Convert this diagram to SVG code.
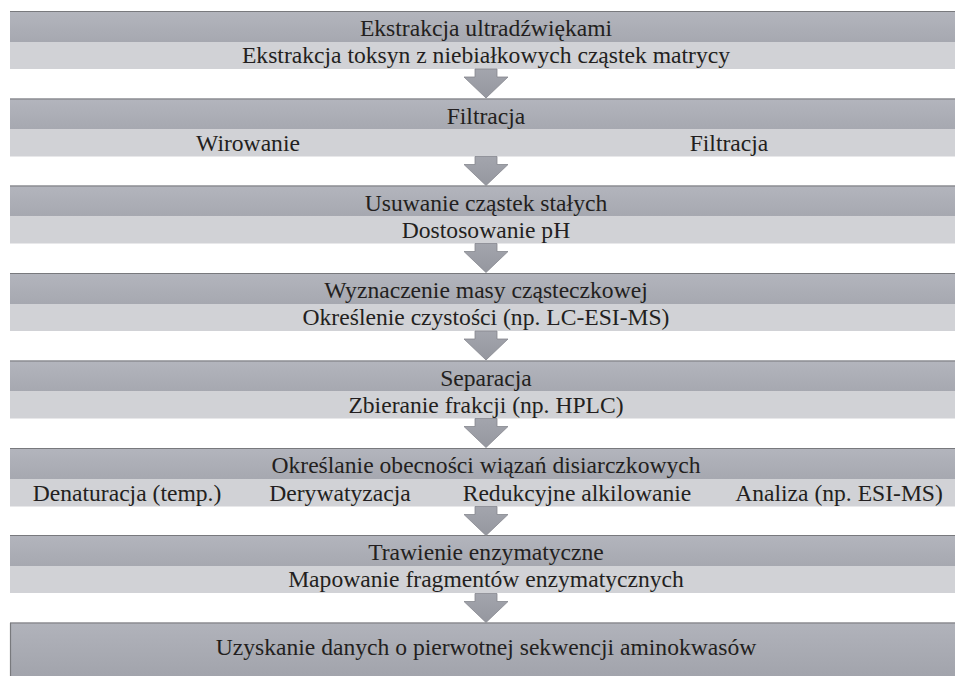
<svg xmlns="http://www.w3.org/2000/svg" width="955" height="676" viewBox="0 0 955 676">
<style>
.t{font-family:"Liberation Serif","Times New Roman",serif;font-size:23.6px;fill:#231f20}
.c{text-anchor:middle}
.dk{fill:url(#gd)}
.lt{fill:#d1d2d6}
.bl{stroke:#78797d;stroke-width:1.2}
.ar{fill:url(#ga);stroke:#85878e;stroke-width:0.8}
</style>
<defs>
<linearGradient id="gd" x1="0" y1="0" x2="0" y2="1"><stop offset="0" stop-color="#b3b5bd"/><stop offset="1" stop-color="#a6a8b0"/></linearGradient>
<linearGradient id="gf" x1="0" y1="0" x2="0" y2="1"><stop offset="0" stop-color="#b1b3bb"/><stop offset="1" stop-color="#a0a2aa"/></linearGradient>
<linearGradient id="ga" x1="0" y1="0" x2="0" y2="1"><stop offset="0" stop-color="#a3a5ad"/><stop offset="1" stop-color="#95979f"/></linearGradient>
<path id="arrow" d="M475,0 H497 V8 H508 L486,29 L464,8 H475 Z"/>
</defs>
<rect width="955" height="676" fill="#fff"/>

<g id="step1">
<rect class="dk" x="10" y="11" width="960" height="31"/>
<rect class="lt" x="10" y="42" width="960" height="27"/>
<line class="bl" x1="10" y1="11.5" x2="970" y2="11.5"/>
<text class="t c" x="486" y="36">Ekstrakcja ultradźwiękami</text>
<text class="t c" x="486" y="63">Ekstrakcja toksyn z niebiałkowych cząstek matrycy</text>
</g>

<g id="step2">
<rect class="dk" x="10" y="98.5" width="960" height="31"/>
<rect class="lt" x="10" y="129.5" width="960" height="27"/>
<line class="bl" x1="10" y1="99" x2="970" y2="99"/>
<text class="t c" x="486" y="123.5">Filtracja</text>
<text class="t c" x="248" y="150.5">Wirowanie</text>
<text class="t c" x="729" y="150.5">Filtracja</text>
</g>

<g id="step3">
<rect class="dk" x="10" y="185.5" width="960" height="31"/>
<rect class="lt" x="10" y="216.5" width="960" height="27"/>
<line class="bl" x1="10" y1="186" x2="970" y2="186"/>
<text class="t c" x="486" y="210.5">Usuwanie cząstek stałych</text>
<text class="t c" x="486" y="237.5">Dostosowanie pH</text>
</g>

<g id="step4">
<rect class="dk" x="10" y="273" width="960" height="31"/>
<rect class="lt" x="10" y="304" width="960" height="27"/>
<line class="bl" x1="10" y1="273.5" x2="970" y2="273.5"/>
<text class="t c" x="486" y="298">Wyznaczenie masy cząsteczkowej</text>
<text class="t c" x="486" y="325">Określenie czystości (np. LC-ESI-MS)</text>
</g>

<g id="step5">
<rect class="dk" x="10" y="360.5" width="960" height="31"/>
<rect class="lt" x="10" y="391.5" width="960" height="27"/>
<line class="bl" x1="10" y1="361" x2="970" y2="361"/>
<text class="t c" x="486" y="385.5">Separacja</text>
<text class="t c" x="486" y="412.5">Zbieranie frakcji (np. HPLC)</text>
</g>

<g id="step6">
<rect class="dk" x="10" y="448" width="960" height="31"/>
<rect class="lt" x="10" y="479" width="960" height="27.5"/>
<line class="bl" x1="10" y1="448.5" x2="970" y2="448.5"/>
<text class="t c" x="486" y="473">Określanie obecności wiązań disiarczkowych</text>
<text class="t c" x="127" y="500.5">Denaturacja (temp.)</text>
<text class="t c" x="340" y="500.5">Derywatyzacja</text>
<text class="t c" x="577" y="500.5">Redukcyjne alkilowanie</text>
<text class="t c" x="839" y="500.5">Analiza (np. ESI-MS)</text>
</g>

<g id="step7">
<rect class="dk" x="10" y="535" width="960" height="31"/>
<rect class="lt" x="10" y="566" width="960" height="27"/>
<line class="bl" x1="10" y1="535.5" x2="970" y2="535.5"/>
<text class="t c" x="486" y="560">Trawienie enzymatyczne</text>
<text class="t c" x="486" y="587">Mapowanie fragmentów enzymatycznych</text>
</g>

<g id="step8">
<rect x="10" y="622.5" width="960" height="60" fill="url(#gf)"/>
<line class="bl" x1="10" y1="623" x2="970" y2="623"/>
<line class="bl" x1="10.5" y1="623" x2="10.5" y2="676"/>
<text class="t c" x="486" y="655">Uzyskanie danych o pierwotnej sekwencji aminokwasów</text>
</g>

<g id="connectors">
<use href="#arrow" class="ar" y="69"/>
<use href="#arrow" class="ar" y="156.5"/>
<use href="#arrow" class="ar" y="243.5"/>
<use href="#arrow" class="ar" y="331"/>
<use href="#arrow" class="ar" y="418.5"/>
<use href="#arrow" class="ar" y="506.5"/>
<use href="#arrow" class="ar" y="593.5"/>
</g>
</svg>
